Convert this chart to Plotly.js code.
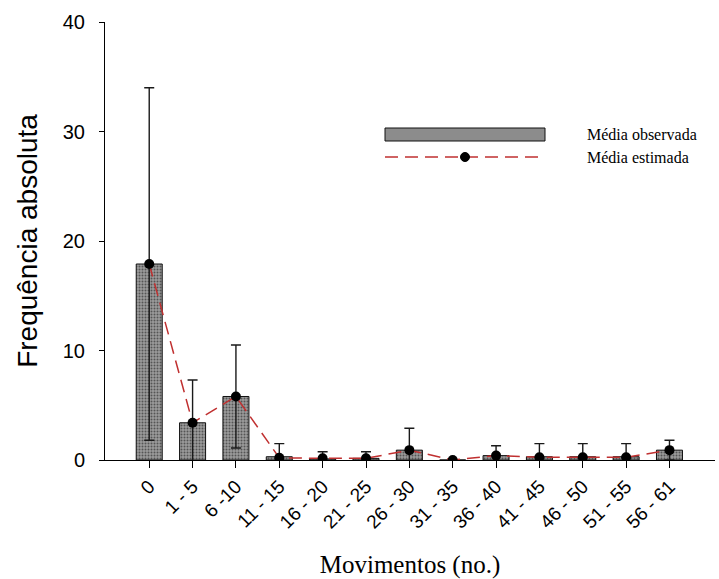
<!DOCTYPE html>
<html>
<head>
<meta charset="utf-8">
<script src="https://cdn.plot.ly/plotly-3.0.1.min.js"></script>
<style>html,body{margin:0;padding:0;background:#fff}#chart{width:719px;height:579px}</style>
</head>
<body>
<div id="chart"></div>
<script>
// Data
var categories = ["0","1 - 5","6 -10","11 - 15","16 - 20","21 - 25","26 - 30","31 - 35","36 - 40","41 - 45","46 - 50","51 - 55","56 - 61"];
var observedMean = [17.9, 3.4, 5.8, 0.3, 0.1, 0.15, 0.9, 0, 0.4, 0.3, 0.3, 0.3, 0.9];
var observedSD   = [16.1, 3.9, 4.7, 1.2, 0.65, 0.6, 2.0, 0, 0.9, 1.2, 1.2, 1.2, 0.9];
var estimatedMean = [17.9, 3.4, 5.8, 0.2, 0.15, 0.15, 0.9, 0, 0.4, 0.25, 0.25, 0.25, 0.9];
var legendLabels = ["Média observada", "Média estimada"];

var SERIF = "'Liberation Serif', 'Times New Roman', 'DejaVu Serif', serif";
var SANS = "'Liberation Sans', Arial, sans-serif";

// plot area geometry (pixels)
var L = 105, R = 715, T = 22, B = 460, W = 719, H = 579;
function px(x){ return (x - L) / (R - L); }
function py(y){ return (B - y) / (B - T); }

var barTrace = {
  type: 'bar', x: categories, y: observedMean, width: 0.6,
  marker: {color: '#8c8c8c', line: {color: '#111', width: 1},
           pattern: {shape: '.', bgcolor: '#9c9c9c', fgcolor: '#555555', size: 3, solidity: 0.35}},
  error_y: {type: 'data', array: observedSD, visible: true, color: '#1a1a1a', thickness: 1.4, width: 5},
  showlegend: false, name: legendLabels[0]
};
var lineTrace = {
  type: 'scatter', mode: 'lines+markers', x: categories, y: estimatedMean,
  line: {color: '#c03030', width: 1.5, dash: '13px,7px'},
  marker: {color: '#000', size: 10},
  showlegend: false, name: legendLabels[1]
};

var layout = {
  width: W, height: H,
  margin: {l: L, r: W - R, t: T, b: H - B},
  paper_bgcolor: '#fff', plot_bgcolor: '#fff',
  showlegend: false,
  font: {family: SANS, color: '#000'},
  xaxis: {
    type: 'category', range: [-1.02, 13.05], showgrid: false, zeroline: false,
    showline: true, linecolor: '#000', linewidth: 1,
    ticks: 'outside', ticklen: 7, tickcolor: '#000', tickangle: -45,
    tickfont: {family: SANS, size: 19, color: '#000'},
    title: {text: 'Movimentos (no.)', font: {family: SERIF, size: 25, color: '#000'}, standoff: 30}
  },
  yaxis: {
    range: [0, 40], tickvals: [0, 10, 20, 30, 40], showgrid: false, zeroline: false,
    showline: true, linecolor: '#000', linewidth: 1,
    ticks: 'outside', ticklen: 5, tickcolor: '#000', ticklabelstandoff: 10,
    tickfont: {family: SANS, size: 20, color: '#000'},
    title: {text: 'Frequência absoluta', font: {family: SANS, size: 28, color: '#000'}, standoff: 16}
  },
  shapes: [
    {type: 'rect', xref: 'paper', yref: 'paper', x0: px(385), x1: px(545), y0: py(141), y1: py(128),
     fillcolor: '#8c8c8c', line: {color: '#111', width: 1}},
    {type: 'line', xref: 'paper', yref: 'paper', x0: px(385), x1: px(545), y0: py(157), y1: py(157),
     line: {color: '#c03030', width: 1.5, dash: '13px,7px'}},
    {type: 'circle', xref: 'paper', yref: 'paper', x0: px(460.5), x1: px(469.5), y0: py(161.5), y1: py(152.5),
     fillcolor: '#000', line: {color: '#000', width: 1}}
  ],
  annotations: [
    {xref: 'paper', yref: 'paper', x: px(585), y: py(134), xanchor: 'left', yanchor: 'middle', showarrow: false,
     text: legendLabels[0], font: {family: SERIF, size: 16, color: '#000'}},
    {xref: 'paper', yref: 'paper', x: px(585), y: py(157), xanchor: 'left', yanchor: 'middle', showarrow: false,
     text: legendLabels[1], font: {family: SERIF, size: 16, color: '#000'}}
  ]
};

Plotly.newPlot('chart', [barTrace, lineTrace], layout, {staticPlot: true, displayModeBar: false});
</script>
</body>
</html>
